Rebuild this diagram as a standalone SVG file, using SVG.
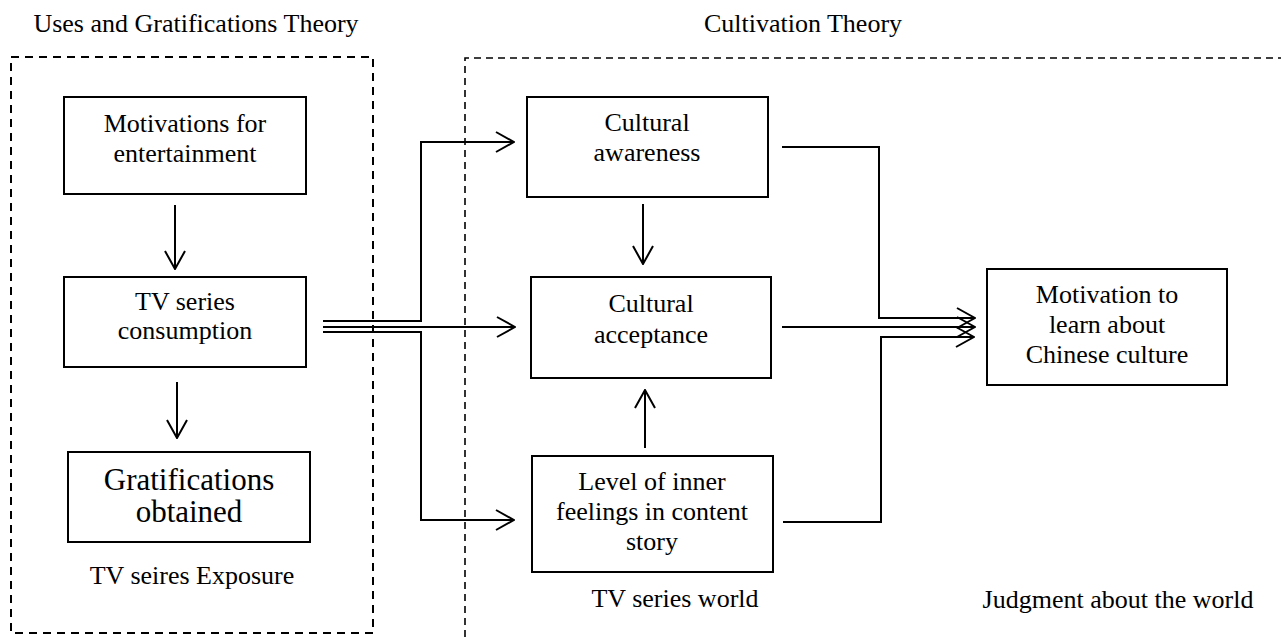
<svg xmlns="http://www.w3.org/2000/svg" width="1281" height="637" viewBox="0 0 1281 637" font-family="'Liberation Serif', 'DejaVu Serif', 'Times New Roman', serif">
<style>
text{font-family:'Liberation Serif','DejaVu Serif','Times New Roman',serif;font-size:26px;fill:#000;text-anchor:middle}
.box{fill:#fff;stroke:#000;stroke-width:2}
.dash1{fill:none;stroke:#000;stroke-width:2;stroke-dasharray:8 6}
.dash2{fill:none;stroke:#000;stroke-width:1.6;stroke-dasharray:7 5}
.c{fill:none;stroke:#000;stroke-width:2}
.big{font-size:31px}
</style>
<defs>
<marker id="ah" viewBox="0 0 20 22" refX="19" refY="11" markerWidth="20" markerHeight="22" markerUnits="userSpaceOnUse" orient="auto">
<path d="M1,1 L19,11 L1,21" fill="none" stroke="#000" stroke-width="2"/>
</marker>
</defs>
<text x="196" y="32">Uses and Gratifications Theory</text>
<text x="803" y="32">Cultivation Theory</text>
<rect class="dash1" x="11" y="57" width="362" height="576"/>
<path class="dash2" d="M465,637 V58 H1281"/>
<g id="connectors">
<path class="c" marker-end="url(#ah)" d="M175,205 V269"/>
<path class="c" marker-end="url(#ah)" d="M177,382 V438"/>
<path class="c" marker-end="url(#ah)" d="M643,204 V264"/>
<path class="c" marker-end="url(#ah)" d="M645,448 V390"/>
<path class="c" marker-end="url(#ah)" d="M323,321 H421 V142 H514"/>
<path class="c" marker-end="url(#ah)" d="M323,327 H515"/>
<path class="c" marker-end="url(#ah)" d="M323,332 H421 V520 H514"/>
<path class="c" marker-end="url(#ah)" d="M782,147 H879 V318 H975"/>
<path class="c" marker-end="url(#ah)" d="M782,327 H975"/>
<path class="c" marker-end="url(#ah)" d="M783,522 H881 V337 H974"/>
</g>
<g id="n-motivations">
<rect class="box" x="64" y="97" width="242" height="97"/>
<text x="185" y="132">Motivations for</text>
<text x="185" y="162">entertainment</text>
</g>
<g id="n-consumption">
<rect class="box" x="64" y="277" width="242" height="90"/>
<text x="185" y="310">TV series</text>
<text x="185" y="339">consumption</text>
</g>
<g id="n-gratifications">
<rect class="box" x="68" y="452" width="242" height="90"/>
<text class="big" x="189" y="490">Gratifications</text>
<text class="big" x="189" y="522">obtained</text>
</g>
<text x="192" y="584">TV seires Exposure</text>
<g id="n-awareness">
<rect class="box" x="527" y="97" width="241" height="100"/>
<text x="647" y="131">Cultural</text>
<text x="647" y="161">awareness</text>
</g>
<g id="n-acceptance">
<rect class="box" x="531" y="277" width="240" height="101"/>
<text x="651" y="312">Cultural</text>
<text x="651" y="343">acceptance</text>
</g>
<g id="n-inner">
<rect class="box" x="532" y="456" width="241" height="116"/>
<text x="652" y="490">Level of inner</text>
<text x="652" y="520">feelings in content</text>
<text x="652" y="550">story</text>
</g>
<text x="675" y="607">TV series world</text>
<g id="n-learn">
<rect class="box" x="987" y="269" width="240" height="116"/>
<text x="1107" y="303">Motivation to</text>
<text x="1107" y="333">learn about</text>
<text x="1107" y="363">Chinese culture</text>
</g>
<text x="1118" y="608">Judgment about the world</text>
</svg>
